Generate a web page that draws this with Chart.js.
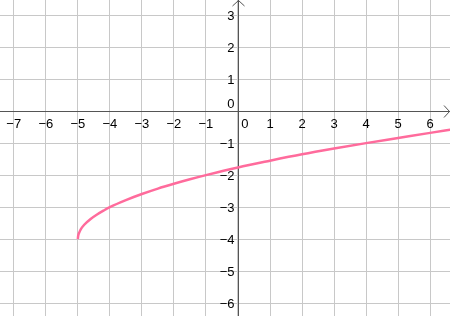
<!DOCTYPE html>
<html>
<head>
<meta charset="utf-8">
<script src="https://cdn.jsdelivr.net/npm/chart.js@4/dist/chart.umd.min.js"></script>
<style>
  html, body { margin: 0; padding: 0; background: #fff; }
  #wrap { width: 450px; height: 316px; }
</style>
</head>
<body>
<div id="wrap"><canvas id="graph"></canvas></div>
<script>
// curve points
const xValues = [-5, -4.99, -4.95, -4.9, -4.8, -4.6, -4.4, -4.2, -4, -3.5, -3, -2.5, -2, -1.5, -1, 0, 1, 2, 3, 4, 5, 6, 6.7];
const yValues = [-4, -3.9, -3.78, -3.68, -3.55, -3.37, -3.23, -3.11, -3, -2.78, -2.59, -2.42, -2.27, -2.13, -2, -1.76, -1.55, -1.35, -1.17, -1, -0.84, -0.68, -0.57];

const xTicks = [-7, -6, -5, -4, -3, -2, -1, 0, 1, 2, 3, 4, 5, 6];
const yTicks = [3, 2, 1, 0, -1, -2, -3, -4, -5, -6];

const xRange = [-7.43, 6.62];
const yRange = [-6.4, 3.47];

const points = xValues.map((x, i) => ({ x: x, y: yValues[i] }));

const fmt = (v) => v < 0 ? "\u2212" + Math.abs(v) : String(v);

// axes with arrows and tick labels, GeoGebra style
const axesPlugin = {
  id: "axes",
  beforeDatasetsDraw(chart) {
    const ctx = chart.ctx;
    const xs = chart.scales.x, ys = chart.scales.y;
    const area = chart.chartArea;
    const x0 = Math.round(xs.getPixelForValue(0)) + 0.5;
    const y0 = Math.round(ys.getPixelForValue(0)) + 0.5;

    ctx.save();
    ctx.strokeStyle = "#555";
    ctx.lineWidth = 1;
    ctx.beginPath();
    ctx.moveTo(area.left, y0); ctx.lineTo(area.right, y0);
    ctx.moveTo(x0, area.top); ctx.lineTo(x0, area.bottom);
    // arrows
    ctx.moveTo(area.right - 6, y0 - 6); ctx.lineTo(area.right - 0.5, y0); ctx.lineTo(area.right - 6, y0 + 6);
    ctx.moveTo(x0 - 6, area.top + 6); ctx.lineTo(x0, area.top + 0.5); ctx.lineTo(x0 + 6, area.top + 6);
    ctx.stroke();

    ctx.fillStyle = "#000";
    ctx.font = "13px 'Liberation Sans', Arial, sans-serif";
    ctx.textBaseline = "top";
    ctx.textAlign = "center";
    xTicks.forEach(v => {
      let px = xs.getPixelForValue(v);
      if (v === 0) px += 7;
      ctx.fillText(fmt(v), px, y0 + 6);
    });
    ctx.textBaseline = "middle";
    ctx.textAlign = "right";
    yTicks.forEach(v => {
      const py = ys.getPixelForValue(v) + (v === 0 ? -7 : 1);
      ctx.fillText(fmt(v), x0 - 4, py);
    });
    ctx.restore();
  }
};

new Chart(document.getElementById("graph"), {
  type: "scatter",
  data: {
    datasets: [{
      data: points,
      showLine: true,
      borderColor: "#ff6b9c",
      borderWidth: 2.5,
      pointRadius: 0,
      cubicInterpolationMode: "monotone",
      fill: false
    }]
  },
  options: {
    responsive: true,
    maintainAspectRatio: false,
    animation: false,
    layout: { padding: 0 },
    plugins: {
      legend: { display: false },
      tooltip: { enabled: false }
    },
    scales: {
      x: {
        type: "linear",
        min: xRange[0],
        max: xRange[1],
        afterBuildTicks: (scale) => { scale.ticks = xTicks.map(v => ({ value: v })); },
        ticks: { display: false },
        border: { display: false },
        grid: { color: "#c8c8c8", drawTicks: false }
      },
      y: {
        type: "linear",
        min: yRange[0],
        max: yRange[1],
        afterBuildTicks: (scale) => { scale.ticks = yTicks.map(v => ({ value: v })); },
        ticks: { display: false },
        border: { display: false },
        grid: { color: "#c8c8c8", drawTicks: false }
      }
    }
  },
  plugins: [axesPlugin]
});
</script>
</body>
</html>
